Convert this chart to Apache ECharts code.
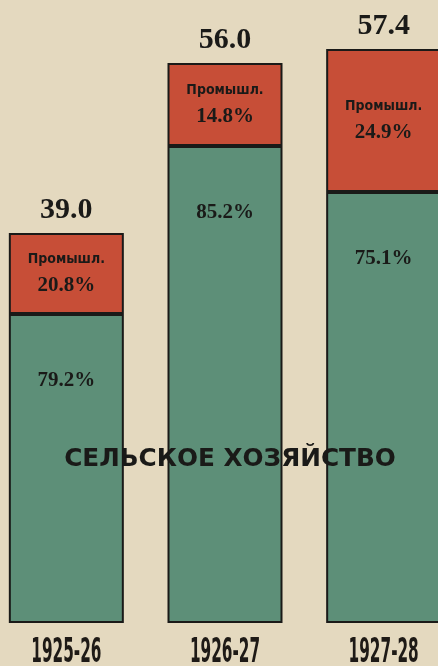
<!DOCTYPE html>
<html>
<head>
<meta charset="utf-8">
<script src="https://cdn.jsdelivr.net/npm/echarts@6/dist/echarts.min.js"></script>
<style>
html,body{margin:0;padding:0;background:#e4d9bf;}
#c{width:438px;height:666px;}
</style>
</head>
<body>
<div id="c"></div>
<script>
var years = ['1925-26', '1926-27', '1927-28'];
var totals = [39.0, 56.0, 57.4];
var agriPct = [79.2, 85.2, 75.1];
var indPct = [20.8, 14.8, 24.9];
var indLabel = 'Промышл.';
var agriLabel = 'СЕЛЬСКОЕ ХОЗЯЙСТВО';

var agriVals = totals.map(function (t, i) { return +(t * agriPct[i] / 100).toFixed(2); });
var indVals = totals.map(function (t, i) { return +(t * indPct[i] / 100).toFixed(2); });

var chart = echarts.init(document.getElementById('c'));
var serif = '"Liberation Serif", "DejaVu Serif", serif';
var narrow = '"DejaVu Sans Condensed", "DejaVu Sans", sans-serif';

chart.setOption({
  backgroundColor: '#e4d9bf',
  animation: false,
  grid: { left: -13, right: -25, top: 23, bottom: 43, outerBoundsMode: 'none', containLabel: false },
  xAxis: {
    type: 'category',
    data: years,
    axisLine: { show: false },
    axisTick: { show: false },
    axisLabel: { show: false }
  },
  yAxis: {
    type: 'value',
    min: 0,
    max: 60,
    show: false,
    splitLine: { show: false }
  },
  series: [
    {
      name: 'agri',
      type: 'bar',
      stack: 's',
      barWidth: 115,
      data: agriVals,
      itemStyle: { color: '#5d8f78', borderColor: '#1a1a18', borderWidth: 2 },
      label: {
        show: true,
        position: 'insideTop',
        distance: 56,
        formatter: function (p) { return agriPct[p.dataIndex].toFixed(1) + '%'; },
        fontFamily: serif,
        fontWeight: 'bold',
        fontSize: 21,
        color: '#1a1a18'
      }
    },
    {
      name: 'ind',
      type: 'bar',
      stack: 's',
      barWidth: 115,
      data: indVals,
      itemStyle: { color: '#c74e37', borderColor: '#1a1a18', borderWidth: 2 },
      label: {
        show: true,
        position: 'inside',
        formatter: function (p) {
          return '{a|' + indLabel + '}\n{b|' + indPct[p.dataIndex].toFixed(1) + '%}';
        },
        rich: {
          a: { fontFamily: narrow, fontWeight: 'bold', fontSize: 14, color: '#1a1a18', lineHeight: 24 },
          b: { fontFamily: serif, fontWeight: 'bold', fontSize: 21, color: '#1a1a18', lineHeight: 28 }
        }
      }
    },
    {
      name: 'total',
      type: 'bar',
      stack: 's',
      barWidth: 115,
      data: totals.map(function () { return 0; }),
      itemStyle: { color: 'transparent', borderWidth: 0 },
      label: {
        show: true,
        position: 'top',
        distance: 8,
        formatter: function (p) { return totals[p.dataIndex].toFixed(1); },
        fontFamily: serif,
        fontWeight: 'bold',
        fontSize: 30,
        color: '#1a1a18'
      }
    }
  ]
});

// Category labels (condensed, placed via the library's scales) and the agriculture caption
var graphics = years.map(function (y) {
  var pt = chart.convertToPixel({ xAxisIndex: 0, yAxisIndex: 0 }, [y, 0]);
  return {
    type: 'text',
    x: pt[0],
    y: pt[1] + 13,
    scaleX: 0.5,
    style: {
      text: y,
      fontFamily: narrow,
      fontWeight: 'bold',
      fontSize: 34,
      fill: '#1e1a16',
      textAlign: 'center',
      textVerticalAlign: 'top'
    },
    z: 100
  };
});
var mid = chart.convertToPixel({ xAxisIndex: 0, yAxisIndex: 0 }, [years[1], 16.4]);
graphics.push({
  type: 'text',
  x: 230,
  y: mid[1],
  scaleX: 1.1,
  style: {
    text: agriLabel,
    fontFamily: narrow,
    fontWeight: 'bold',
    fontSize: 25,
    fill: '#1a1a18',
    textAlign: 'center',
    textVerticalAlign: 'middle'
  },
  z: 100
});
chart.setOption({ graphic: graphics });
</script>
</body>
</html>
